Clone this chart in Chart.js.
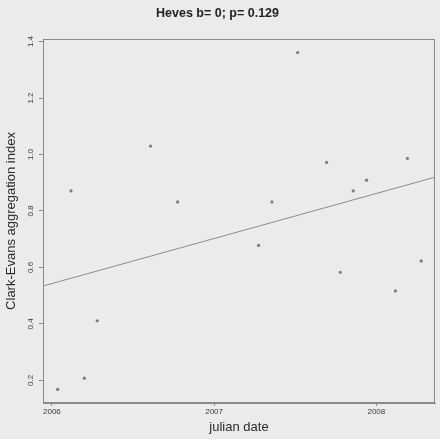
<!DOCTYPE html>
<html>
<head>
<meta charset="utf-8">
<script src="https://cdn.jsdelivr.net/npm/chart.js@4"></script>
<style>
  html, body { margin: 0; padding: 0; background: #ebebe9; }
  #wrap { width: 440px; height: 439px; }
</style>
</head>
<body>
<div id="wrap"><canvas id="c" width="440" height="439"></canvas></div>
<script>
// Julian date, as days since 1 Jan 2006
const julianDays = [13, 43, 73, 102, 222, 283, 465, 495, 553, 618, 649, 678, 708, 773, 800, 831];
// Clark-Evans aggregation index
const ceIndex = [0.168, 0.871, 0.208, 0.411, 1.030, 0.832, 0.678, 0.832, 1.361, 0.972, 0.583, 0.871, 0.909, 0.517, 0.986, 0.623];
// Fitted regression line: index = intercept + slope * day
const fitIntercept = 0.543;
const fitSlope = 0.000437;
// Axis ticks
const xTickValues = [0, 365, 730];
const xTickLabels = ['2006', '2007', '2008'];
const yTickValues = [0.2, 0.4, 0.6, 0.8, 1.0, 1.2, 1.4];
const xRange = [-20, 862];
const yRange = [0.12, 1.409];

const txt = '#3a3a3a';
const lineCol = '#8a8a8a';

const bgPlugin = {
  id: 'bg',
  beforeDraw(chart) {
    const ctx = chart.ctx;
    ctx.save();
    ctx.fillStyle = '#ebebe9';
    ctx.fillRect(0, 0, chart.width, chart.height);
    ctx.restore();
  },
  afterDraw(chart) {
    const a = chart.chartArea, ctx = chart.ctx;
    ctx.save();
    ctx.strokeStyle = lineCol;
    ctx.lineWidth = 1;
    ctx.strokeRect(Math.round(a.left) + 0.5, Math.round(a.top) + 0.5,
                   Math.round(a.right - a.left) - 1, Math.round(a.bottom - a.top) - 1);
    ctx.restore();
  }
};

const points = julianDays.map((d, i) => ({ x: d, y: ceIndex[i] }));
const fitPoints = xRange.map(d => ({ x: d, y: fitIntercept + fitSlope * d }));

new Chart(document.getElementById('c'), {
  data: {
    datasets: [
      {
        type: 'scatter',
        data: points,
        pointRadius: 1.6,
        pointBackgroundColor: '#7c7c7c',
        pointBorderWidth: 0,
        pointHoverRadius: 1.6
      },
      {
        type: 'line',
        data: fitPoints,
        borderColor: '#8c8c8c',
        borderWidth: 1,
        pointRadius: 0,
        fill: false
      }
    ]
  },
  options: {
    responsive: false,
    animation: false,
    devicePixelRatio: 1,
    layout: { padding: { left: 0, right: 5, top: 0, bottom: 0 } },
    plugins: {
      legend: { display: false },
      tooltip: { enabled: false },
      title: {
        display: true,
        text: 'Heves b= 0; p= 0.129',
        color: '#222',
        font: { family: 'Liberation Sans', size: 12.5, weight: 'bold' },
        padding: { top: 6, bottom: 18 }
      }
    },
    scales: {
      x: {
        type: 'linear',
        min: xRange[0],
        max: xRange[1],
        afterBuildTicks(scale) { scale.ticks = xTickValues.map(v => ({ value: v })); },
        afterFit(scale) { scale.height = 36; },
        grid: { display: true, drawOnChartArea: false, drawTicks: true, tickLength: 3, color: lineCol, tickColor: lineCol },
        border: { display: true, color: lineCol },
        ticks: {
          padding: 1,
          color: txt,
          maxRotation: 0,
          autoSkip: false,
          font: { family: 'Liberation Sans', size: 8 },
          callback(v) { const i = xTickValues.indexOf(v); return i >= 0 ? xTickLabels[i] : ''; }
        },
        title: {
          display: true,
          text: 'julian date',
          color: '#2a2a2a',
          font: { family: 'Liberation Sans', size: 13 },
          padding: { top: 0, bottom: 4 }
        }
      },
      y: {
        type: 'linear',
        min: yRange[0],
        max: yRange[1],
        afterBuildTicks(scale) { scale.ticks = yTickValues.map(v => ({ value: v })); },
        afterFit(scale) { scale.width = 43; },
        grid: { display: true, drawOnChartArea: false, drawTicks: true, tickLength: 4, color: lineCol, tickColor: lineCol },
        border: { display: true, color: lineCol },
        ticks: {
          padding: 3,
          color: txt,
          minRotation: 90,
          maxRotation: 90,
          crossAlign: 'center',
          autoSkip: false,
          font: { family: 'Liberation Sans', size: 8 },
          callback(v) { return Number(v).toFixed(1); }
        },
        title: {
          display: true,
          text: 'Clark-Evans aggregation index',
          color: '#2a2a2a',
          font: { family: 'Liberation Sans', size: 13 },
          padding: { top: 4, bottom: 0 }
        }
      }
    }
  },
  plugins: [bgPlugin]
});
</script>
</body>
</html>
